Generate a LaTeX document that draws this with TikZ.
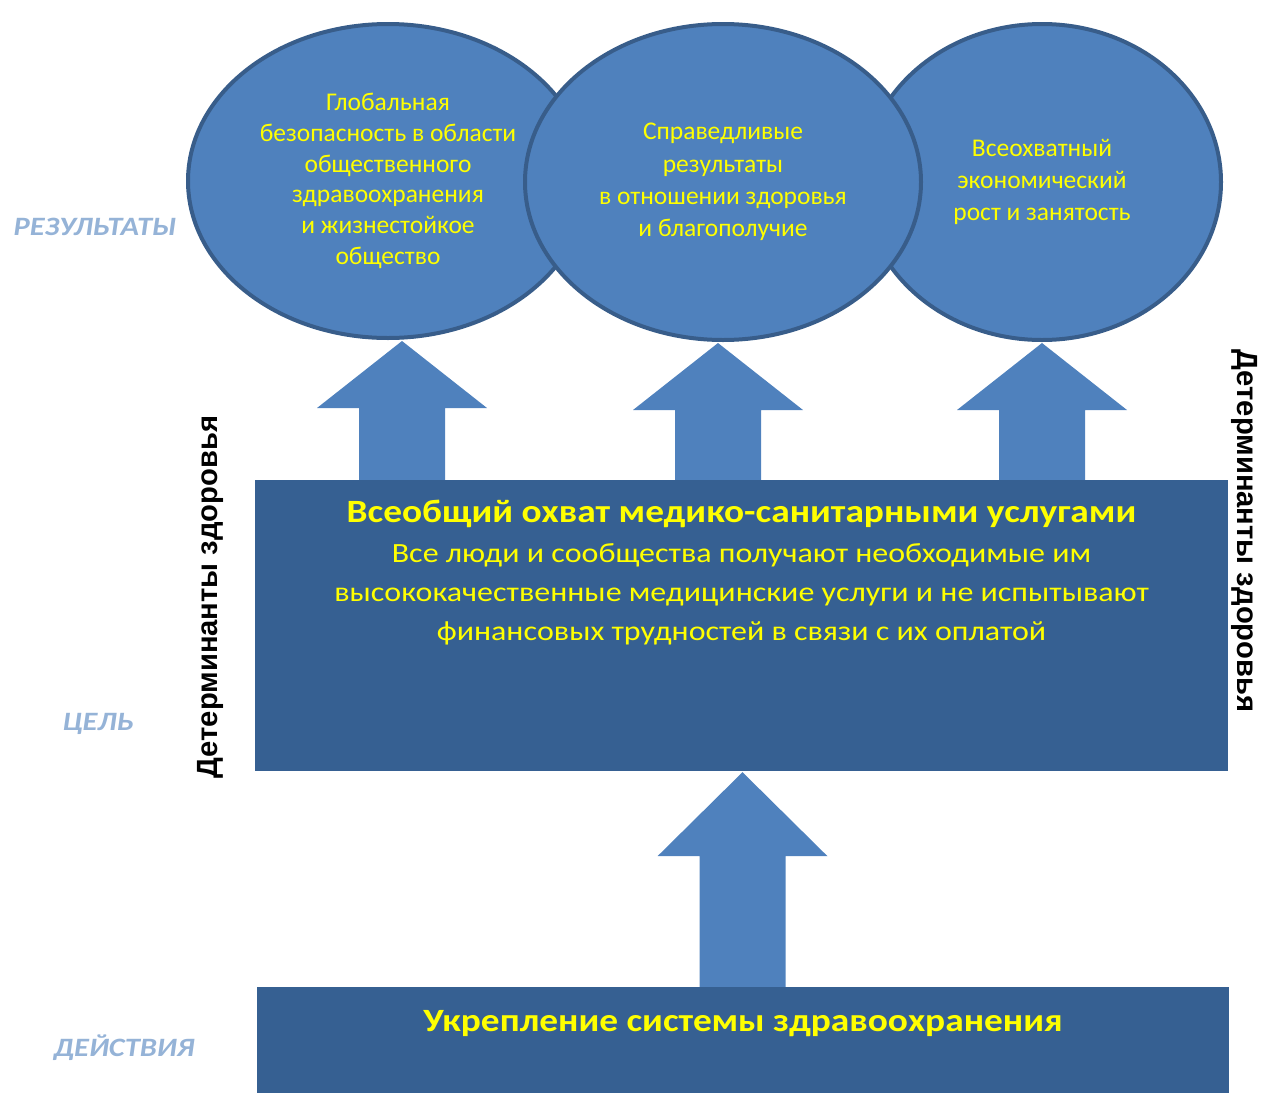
\documentclass[tikz,border=0pt]{standalone}
\usepackage{fontspec}
\setmainfont{Carlito}
\newfontfamily\widefont[FakeStretch=1.15]{Carlito}
\newfontfamily\arialfont{Liberation Sans}
\usepackage{tikz}
\usetikzlibrary{calc, positioning}
\usetikzlibrary{shapes.geometric}

\definecolor{ellfill}{RGB}{79,129,189}
\definecolor{ellline}{RGB}{56,93,138}
\definecolor{boxfill}{RGB}{54,96,146}
\definecolor{labelblue}{RGB}{149,179,215}
\definecolor{txtyellow}{RGB}{255,255,0}

\begin{document}
\begin{tikzpicture}[x=1pt, y=-1pt]
\tikzset{result/.style={ellipse, draw=ellline, fill=ellfill, line width=4pt, inner sep=0pt, align=center, text=txtyellow, font=\fontsize{25.5}{32.4}\selectfont},
  levelbox/.style={rectangle, fill=boxfill, inner sep=0pt},
  boxtext/.style={inner sep=0pt, align=center, text=txtyellow},
  level/.style={inner sep=0pt, text=labelblue, font=\widefont\fontsize{26.5}{30}\selectfont\bfseries\itshape},
  determ/.style={inner sep=0pt, font=\arialfont\fontsize{29.2}{33}\selectfont\bfseries},
  upfill/.style={fill=ellfill}}

\useasboundingbox (0,0) rectangle (1262,1093);

% outcomes, middle one on top
\node [result, minimum width=400, minimum height=314, font=\fontsize{25.5}{30.8}\selectfont] (glob) at (388,181) {Глобальная\\безопасность в области\\общественного\\здравоохранения\\и жизнестойкое\\общество};
\node [result, minimum width=358, minimum height=316] (econ) at (1042,182) {Всеохватный\\экономический\\рост и занятость};
\node [result, minimum width=396, minimum height=316] (equi) at (723,182) {Справедливые\\результаты\\в отношении здоровья\\и благополучие};

% goal and actions
\node [levelbox, minimum width=973, minimum height=291] (goal) at (741.5,625.5) {};
\node [levelbox, minimum width=972, minimum height=106] (action) at (743,1040) {};
\node [boxtext, below=43pt of goal.north, anchor=base, font=\widefont\fontsize{32.5}{39}\selectfont\bfseries] (goalhead) {Всеобщий охват медико-санитарными услугами};
\node [boxtext, below=64pt of goal.north, anchor=north, font=\widefont\fontsize{27.8}{39}\selectfont] (goaltext) {Все люди и сообщества получают необходимые им\\высококачественные медицинские услуги и не испытывают\\финансовых трудностей в связи с их оплатой};
\node [boxtext, below=45pt of action.north, anchor=base, font=\widefont\fontsize{32.5}{36}\selectfont\bfseries] (actionhead) {Укрепление системы здравоохранения};

% row labels
\node [level] (lres) at (95,227) {РЕЗУЛЬТАТЫ};
\node [level] (lgoal) at (98,724) {ЦЕЛЬ};
\node [level] (lact) at (124,1048) {ДЕЙСТВИЯ};
\node [determ, rotate=90] (detl) at (210,597) {Детерминанты здоровья};
\node [determ, rotate=-90] (detr) at (1245,531) {Детерминанты здоровья};

% block arrows
\coordinate (t1) at ($(glob.south)+(14,1)$);
\coordinate (b1) at (t1 |- goal.north);
\coordinate (t2) at ($(equi.south)+(-5,1)$);
\coordinate (b2) at (t2 |- goal.north);
\coordinate (t3) at ($(econ.south)+(0,1)$);
\coordinate (b3) at (t3 |- goal.north);
\coordinate (t4) at ($(goal.south)+(1,1)$);
\coordinate (b4) at (t4 |- action.north);
\fill [upfill] ($(b1)+(-43,0)$) -- ($(t1)+(-43,67)$) -- ($(t1)+(-85,67)$) -- (t1) -- ($(t1)+(85,67)$) -- ($(t1)+(43,67)$) -- ($(b1)+(43,0)$) -- cycle;
\fill [upfill] ($(b2)+(-43,0)$) -- ($(t2)+(-43,67)$) -- ($(t2)+(-85,67)$) -- (t2) -- ($(t2)+(85,67)$) -- ($(t2)+(43,67)$) -- ($(b2)+(43,0)$) -- cycle;
\fill [upfill] ($(b3)+(-43,0)$) -- ($(t3)+(-43,67)$) -- ($(t3)+(-85,67)$) -- (t3) -- ($(t3)+(85,67)$) -- ($(t3)+(43,67)$) -- ($(b3)+(43,0)$) -- cycle;
\fill [upfill] ($(b4)+(-43,0)$) -- ($(t4)+(-43,84)$) -- ($(t4)+(-85,84)$) -- (t4) -- ($(t4)+(85,84)$) -- ($(t4)+(43,84)$) -- ($(b4)+(43,0)$) -- cycle;

\end{tikzpicture}
\end{document}
